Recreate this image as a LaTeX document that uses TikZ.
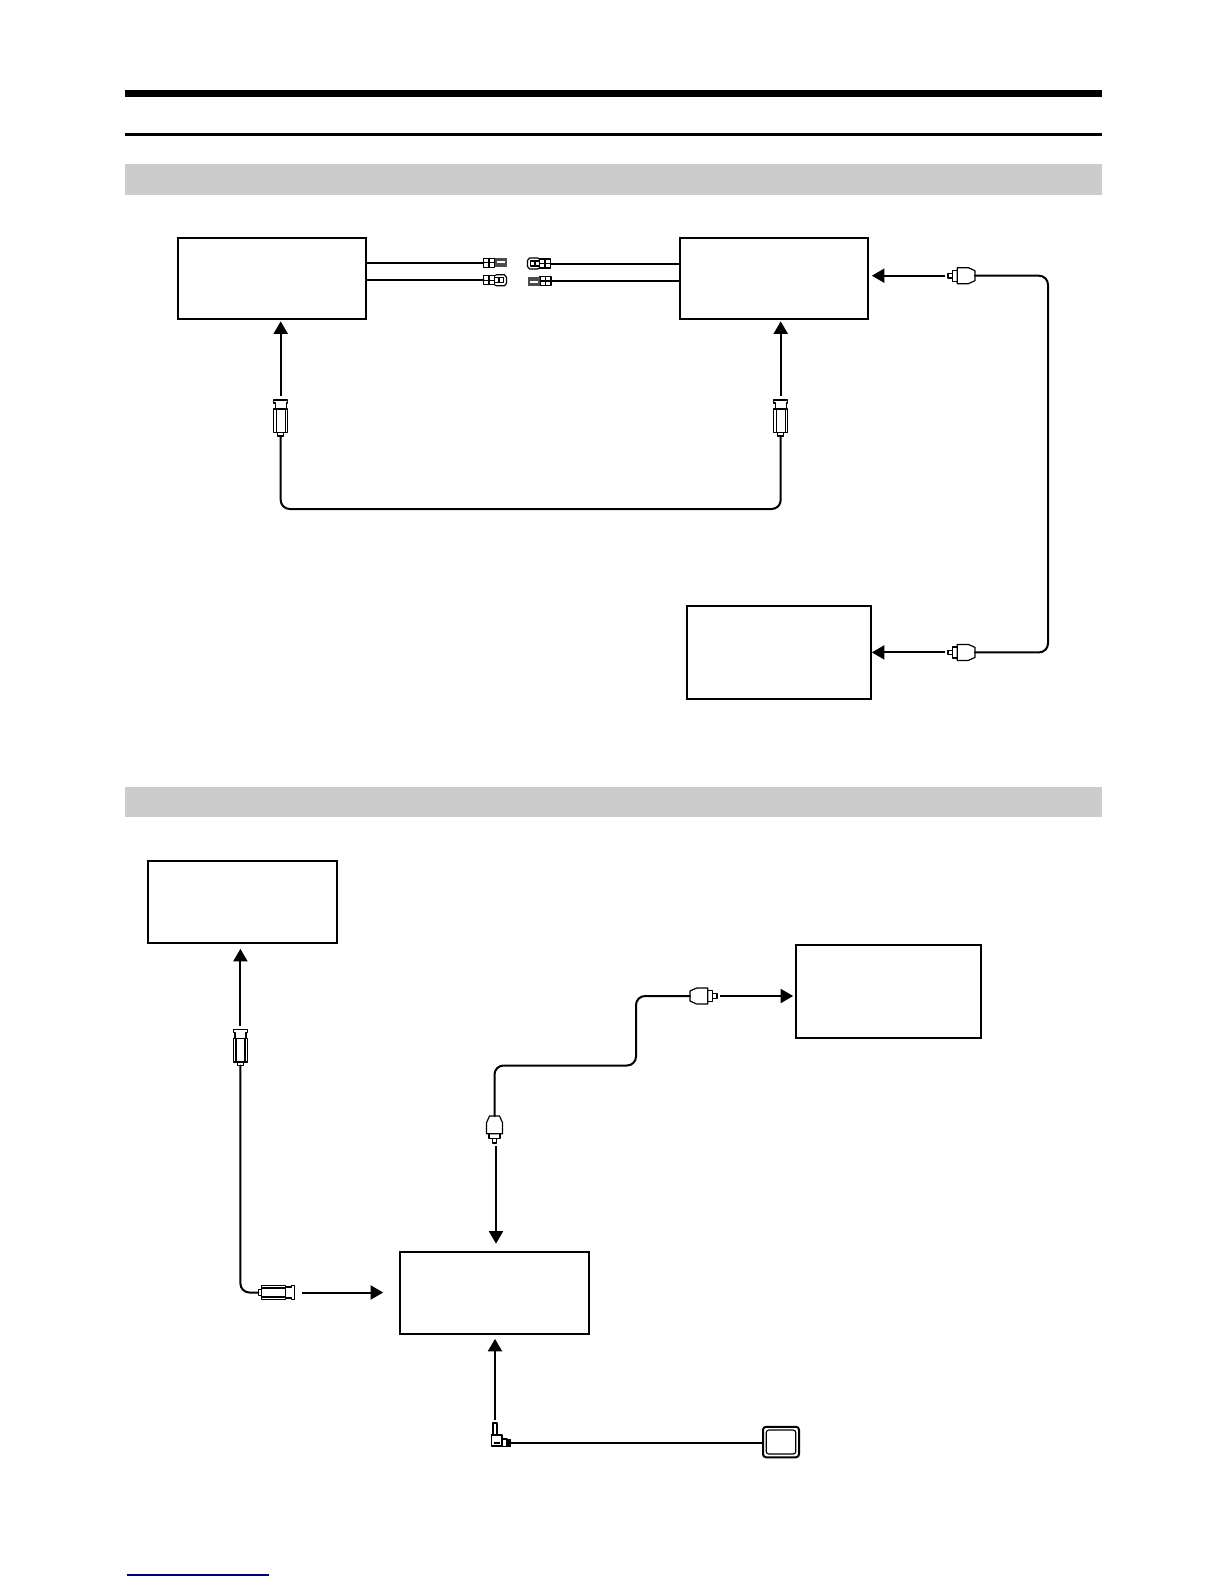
\documentclass[tikz,border=0pt]{standalone}
\usetikzlibrary{arrows.meta,positioning}

\begin{document}
\begin{tikzpicture}[x=1pt,y=-1pt]
\tikzset{
  devbox/.style={rectangle,draw=black,line width=1.7pt,inner sep=0pt,minimum width=#1},
  wideunit/.style={devbox=188pt,minimum height=81pt},
  tallunit/.style={devbox=185pt,minimum height=93pt},
  band/.style={rectangle,fill=black!20,inner sep=0pt,minimum width=977pt,minimum height=31pt},
  wire/.style={draw=black,line width=2pt,line cap=round,line join=round},
  cable/.style={wire,rounded corners=9pt},
  feed/.style={draw=black,line width=2pt,-{Triangle[length=12.5pt,width=14pt]}},
  plugline/.style={draw=black,line width=1.2pt,line join=round},
  tubeplug/.pic={
    \coordinate (-tail) at (0,0);
    \coordinate (-tip) at (40,0);
    \draw[plugline] (0,-3) rectangle (3.5,3);
    \draw[plugline] (3.5,-7) rectangle (27,7);
    \draw[plugline] (3.5,-4.5) -- (27,-4.5) (3.5,4.5) -- (27,4.5);
    \draw[plugline] (27,-5.5) -- (33,-5.5) -- (33,-7) -- (36,-7) -- (36,7) -- (33,7) -- (33,5.5) -- (27,5.5);
  },
  roundplug/.pic={
    \coordinate (-tail) at (0,0);
    \coordinate (-tip) at (30,0);
    \draw[plugline] (0,-5) -- (6.7,-8) -- (17.7,-8) -- (17.7,8) -- (6.7,8) -- (0,5) -- cycle;
    \draw[plugline] (17.7,-5.5) rectangle (22.3,5.5);
    \draw[plugline] (22.3,-2.2) rectangle (27,2.2);
  },
  bladeplug/.pic={
    \coordinate (-tail) at (0,0);
    \draw[plugline] (0,-4.5) rectangle (11,4.5);
    \draw[plugline] (0,0) -- (11,0) (5.5,-4.5) -- (5.5,4.5);
    \fill[black!70] (11,-4.5) rectangle (23,4.5);
    \fill[white] (13,-1.5) rectangle (21,0);
  },
  sleeveplug/.pic={
    \coordinate (-tail) at (0,0);
    \draw[plugline] (0,-4.5) rectangle (11,4.5);
    \draw[plugline] (0,0) -- (11,0) (5.5,-4.5) -- (5.5,4.5);
    \draw[plugline] (11,-4.5) -- (13,-5.5) -- (21,-5.5) -- (23,-3) -- (23,3) -- (21,5.5) -- (13,5.5) -- (11,4.5);
    \draw[plugline] (11,-2.5) rectangle (20,2.5);
    \draw[plugline] (15.5,-2.5) -- (15.5,2.5);
  }
}
\useasboundingbox (0,0) rectangle (1224,1584);
% rules and bands
\fill[black] (125,90) rectangle (1102,97.5);
\fill[black] (125,132.6) rectangle (1102,136);
\node[band] (b_top) at (613.5,179.5) {};
\node[band,minimum height=30pt] (b_low) at (613.5,802) {};
\draw[draw=blue!50!black,line width=1.2pt] (126.7,1575) -- (269,1575);
% units
\node[wideunit] (n_a) at (272,278.5) {};
\node[wideunit] (n_b) at (774,278.5) {};
\node[tallunit,minimum width=184pt] (n_c) at (779,652.5) {};
\node[wideunit,minimum width=189pt,minimum height=82pt] (n_d) at (242.5,902) {};
\node[tallunit] (n_e) at (888.5,991.5) {};
\node[wideunit,minimum width=189pt,minimum height=82pt] (n_f) at (494.5,1293) {};
\node[rectangle,draw=black,line width=2pt,rounded corners=3pt,minimum width=36pt,minimum height=30.5pt,inner sep=0pt] (n_pad) at (781,1442) {};
\node[rectangle,draw=black,line width=1.1pt,rounded corners=2.5pt,minimum width=29.5pt,minimum height=24pt,inner sep=0pt] (n_padin) at (781,1442) {};
% plugs
\pic (p_wa) at (483.5,262.7) {bladeplug};
\pic (p_wb) at (483.5,280.3) {sleeveplug};
\pic[rotate=180] (p_wc) at (550.5,263.5) {sleeveplug};
\pic[rotate=180] (p_wd) at (551,281) {bladeplug};
\pic[rotate=90] (p_a) at (280.7,436) {tubeplug};
\pic[rotate=90] (p_b) at (780.7,436) {tubeplug};
\pic[rotate=180] (p_r) at (975,275.7) {roundplug};
\pic[rotate=180] (p_s) at (975,652.4) {roundplug};
\pic[rotate=90] (p_d) at (240.4,1065.5) {tubeplug};
\pic (p_f) at (258.3,1292.5) {tubeplug};
\pic[rotate=-90] (p_g) at (494.5,1116) {roundplug};
\pic (p_e) at (690,996) {roundplug};
% jack
\draw[plugline,fill=white] (493,1423) rectangle (497,1435);
\draw[plugline] (491.5,1435) rectangle (502,1446);
\fill[black] (494,1441.5) rectangle (500,1443.5);
\draw[plugline] (502,1439) rectangle (507,1446.5);
\fill[black] (507,1439) rectangle (510.5,1446.5);
\coordinate (p_j-top) at (495,1420);
\coordinate (p_j-tail) at (510,1443);
\coordinate (p_g-feed) at ([xshift=1.5pt]p_g-tip);
% wires
\draw[wire] (n_a.east |- p_wa-tail) -- (p_wa-tail);
\draw[wire] (n_a.east |- p_wb-tail) -- (p_wb-tail);
\draw[wire] (p_wc-tail) -- (n_b.west |- p_wc-tail);
\draw[wire] (p_wd-tail) -- (n_b.west |- p_wd-tail);
\draw[cable] (p_a-tail) -- (280.7,509) -- (780.7,509) -- (p_b-tail);
\draw[cable] (p_r-tail) -- (1048,275.7) -- (1048,652.4) -- (p_s-tail);
\draw[cable] (p_d-tail) -- (240.4,1292.5) -- (p_f-tail);
\draw[cable] (p_g-tail) -- (494.5,1065.5) -- (636,1065.5) -- (636,996) -- (p_e-tail);
\draw[wire] (p_j-tail) -- (n_pad.west |- p_j-tail);
% feeds
\draw[feed,shorten >=1.5pt] (p_a-tip) -- (n_a.south -| p_a-tip);
\draw[feed,shorten >=1.5pt] (p_b-tip) -- (n_b.south -| p_b-tip);
\draw[feed,shorten >=3pt] (p_r-tip) -- (n_b.east |- p_r-tip);
\draw[feed,shorten >=0pt] (p_s-tip) -- (n_c.east |- p_s-tip);
\draw[feed,shorten >=5pt] (p_d-tip) -- (n_d.south -| p_d-tip);
\draw[feed,shorten <=4pt,shorten >=16pt] (p_f-tip) -- (n_f.west |- p_f-tip);
\draw[feed,shorten >=7.5pt] (p_g-feed) -- (n_f.north -| p_g-feed);
\draw[feed,shorten >=2pt] (p_e-tip) -- (n_e.west |- p_e-tip);
\draw[feed,shorten >=4pt] (p_j-top) -- (n_f.south -| p_j-top);
\end{tikzpicture}
\end{document}
